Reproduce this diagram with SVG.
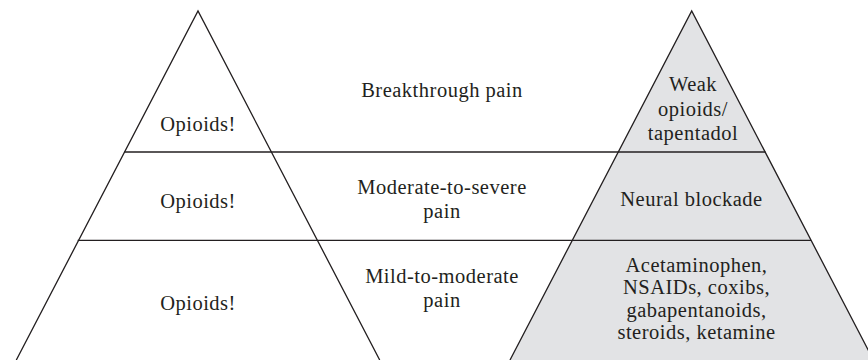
<svg xmlns="http://www.w3.org/2000/svg" width="868" height="360" viewBox="0 0 868 360">
<style>
.ln{stroke:#231f20;stroke-width:1.3;fill:none}
.t{font-family:"Liberation Serif","Times New Roman",serif;font-size:20.5px;letter-spacing:0.5px;fill:#231f20;text-anchor:middle}
</style>
<rect width="868" height="360" fill="#ffffff"/>
<g id="right-pyramid">
<polygon points="691.7,11 510,360 873.4,360" fill="#e2e3e5"/>
<path class="ln" d="M510,360 L691.7,11 L873.4,360"/>
<text class="t" x="693" y="91">Weak</text>
<text class="t" x="693" y="115.5">opioids/</text>
<text class="t" x="693" y="140">tapentadol</text>
<text class="t" x="691.5" y="206">Neural blockade</text>
<text class="t" x="696.5" y="271.5">Acetaminophen,</text>
<text class="t" x="696.5" y="294">NSAIDs, coxibs,</text>
<text class="t" x="696.5" y="316.5">gabapentanoids,</text>
<text class="t" x="696.5" y="339">steroids, ketamine</text>
</g>
<g id="left-pyramid">
<path class="ln" d="M16.3,360 L198,11 L379.7,360"/>
<text class="t" x="198" y="131">Opioids!</text>
<text class="t" x="198" y="207.5">Opioids!</text>
<text class="t" x="198" y="310">Opioids!</text>
</g>
<g id="connectors">
<line class="ln" x1="124.3" y1="152" x2="765.5" y2="152"/>
<line class="ln" x1="77.7" y1="240.3" x2="811" y2="240.3"/>
</g>
<g id="pain-labels">
<text class="t" x="442" y="97">Breakthrough pain</text>
<text class="t" x="442" y="194">Moderate-to-severe</text>
<text class="t" x="442" y="218">pain</text>
<text class="t" x="442" y="283">Mild-to-moderate</text>
<text class="t" x="442" y="307">pain</text>
</g>
</svg>
